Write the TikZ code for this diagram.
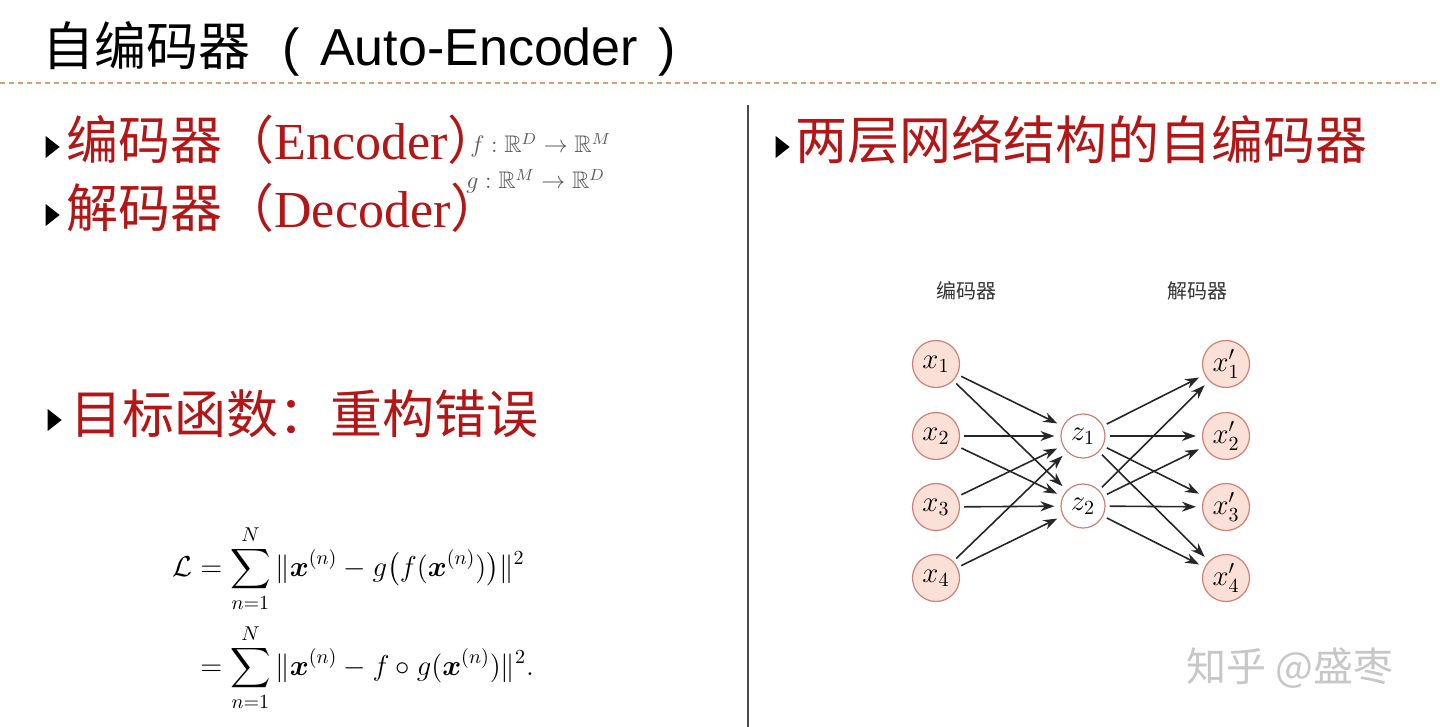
\documentclass[tikz,border=0pt]{standalone}
\usepackage{amsmath,amssymb,bm}
\usepackage{fontspec}
\setmainfont{Liberation Serif}
\newfontfamily\cjk{Noto Sans CJK SC}
\newfontfamily\arial{Liberation Sans}
\usetikzlibrary{arrows.meta,shapes.geometric}

\definecolor{slidered}{RGB}{178,22,22}
\definecolor{rulecolor}{RGB}{214,160,112}
\definecolor{cellfill}{RGB}{250,224,214}
\definecolor{celldraw}{RGB}{206,128,118}

\begin{document}
\begin{tikzpicture}[x=0.5pt,y=-0.5pt,
  bullet/.style={isosceles triangle,isosceles triangle stretches,fill=black,
    minimum width=11pt,minimum height=7pt,inner sep=0pt},
  redtext/.style={text=slidered,font=\cjk\fontsize{26}{30}\selectfont,inner sep=0pt},
  innode/.style={circle,draw=celldraw,fill=cellfill,line width=0.6pt,
    minimum size=23.5pt,inner sep=0pt,font=\fontsize{14}{16}\selectfont},
  hidnode/.style={circle,draw=celldraw,fill=white,line width=0.6pt,
    minimum size=22pt,inner sep=0pt,font=\fontsize{14}{16}\selectfont},
  edge/.style={-{Stealth[length=7pt,width=5pt]},line width=0.8pt,
    black!85,shorten <=2pt,shorten >=3pt},
  maplabel/.style={text=black!65,font=\fontsize{12}{14}\selectfont,inner sep=0pt}]
\useasboundingbox (0,0) rectangle (1440,727);

%title
\node[anchor=base west,inner sep=0pt,font=\fontsize{26}{30}\selectfont] (title) at (42,66)
  {{\cjk 自编码器}\hspace{16pt}{\arial (\hspace{3pt} Auto-Encoder\hspace{3pt} )}};
\draw[rulecolor,line width=0.8pt,dash pattern=on 2.5pt off 2pt] (0,83) -- (1440,83);
\draw[black!70,line width=0.6pt] (748,105) -- (748,727);

%left column
\node[bullet] (b1) at (51,147) {};
\node[redtext,anchor=base west] (enc) at (66,160) {编码器（{\rmfamily Encoder}）\kern-0.6em};
\node[maplabel,anchor=base west] (fmap) at (470,153) {$f:\mathbb{R}^D\rightarrow\mathbb{R}^M$};
\node[maplabel,anchor=base west] (gmap) at (466,189) {$g:\mathbb{R}^M\rightarrow\mathbb{R}^D$};
\node[bullet] (b2) at (51,215) {};
\node[redtext,anchor=base west] (dec) at (66,228) {解码器（{\rmfamily Decoder}）\kern-0.6em};
\node[bullet] (b3) at (53,420) {};
\node[redtext,anchor=base west] (obj) at (70,433) {目标函数：重构错误};

\node[anchor=west,inner sep=0pt,font=\fontsize{14}{17}\selectfont] (loss) at (172,618) {%
  $\begin{aligned}
  \mathcal{L} &= \sum_{n=1}^{N}\|\bm{x}^{(n)}-g\big(f(\bm{x}^{(n)})\big)\|^2\\[2pt]
  &= \sum_{n=1}^{N}\|\bm{x}^{(n)}-f\circ g(\bm{x}^{(n)})\|^2.
  \end{aligned}$};

%right column
\node[bullet] (b4) at (781,147) {};
\node[redtext,anchor=base west] (net) at (795,160) {两层网络结构的自编码器};

\node[inner sep=0pt,text=black!80,font=\cjk\fontsize{10}{12}\selectfont] (enclab) at (966,291) {编码器};
\node[inner sep=0pt,text=black!80,font=\cjk\fontsize{10}{12}\selectfont] (declab) at (1197,291) {解码器};

\foreach \i/\y in {1/364,2/436,3/507,4/578}{
  \node[innode] (x\i) at (936,\y) {$x_\i$};
  \node[innode] (o\i) at (1226,\y) {$x'_\i$};
}
\node[hidnode] (z1) at (1083,436) {$z_1$};
\node[hidnode] (z2) at (1083,506) {$z_2$};

\foreach \i in {1,...,4}
  \foreach \j in {1,2}{
    \draw[edge] (x\i) -- (z\j);
    \draw[edge] (z\j) -- (o\i);
  }

\node[text=black!22,inner sep=0pt,font=\cjk\fontsize{20}{22}\selectfont] (mark) at (1290,668) {知乎 @盛枣};
\end{tikzpicture}
\end{document}
